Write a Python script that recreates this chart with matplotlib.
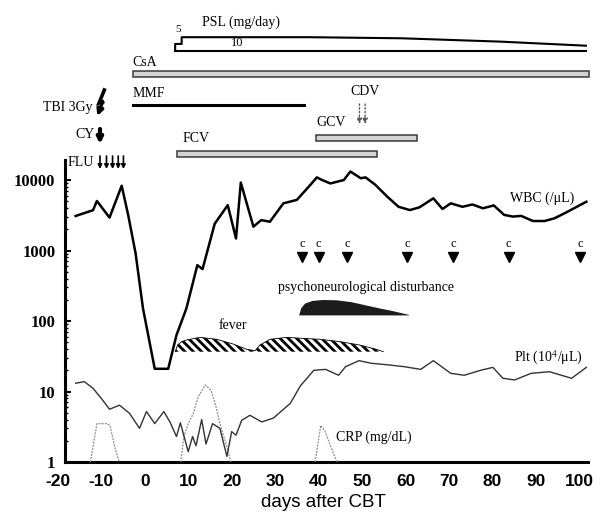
import numpy as np
import matplotlib
matplotlib.use('Agg')
import matplotlib.pyplot as plt
from matplotlib.patches import Rectangle
from matplotlib.ticker import FixedLocator, FixedFormatter, LogLocator, NullFormatter

plt.rcParams['font.family'] = ['Liberation Serif', 'DejaVu Serif']
plt.rcParams['mathtext.fontset'] = 'stix'
plt.rcParams['hatch.linewidth'] = 2.0

# ---------------- data ----------------
wbc_days = [-15.9, -11.9, -11.0, -8.1, -5.3, -3.8, -2.1, -0.4, 2.3, 5.4, 7.3, 9.6, 12.1, 13.3,
            16.1, 19.1, 21.0, 22.1, 25.0, 26.8, 28.8, 31.9, 35.0, 37.7, 39.6, 40.8, 42.7, 45.8,
            47.3, 49.7, 50.8, 53.0, 55.8, 58.4, 61.0, 63.2, 66.4, 68.5, 70.4, 73.1, 75.4, 77.8,
            80.3, 82.7, 84.7, 86.6, 89.3, 92.0, 94.3, 96.6, 101.6]
wbc_vals = [3090, 3730, 5040, 2930, 8300, 3170, 910, 151, 21, 21, 63, 152, 620, 545,
            2400, 4400, 1480, 9200, 2180, 2700, 2560, 4670, 5230, 8000, 10900, 10000, 8940, 10000,
            13200, 10600, 10900, 8600, 5800, 4170, 3750, 4100, 5500, 3880, 4670, 4170, 4500, 3970,
            4360, 3200, 3030, 3100, 2620, 2620, 2870, 3380, 4920]

plt_days = [-15.9, -13.9, -11.9, -10.0, -8.1, -5.8, -3.5, -1.2, 0.4, 2.3, 4.4, 5.8, 7.3, 8.2,
            10.0, 11.0, 11.8, 13.1, 14.1, 15.6, 17.3, 18.9, 20.0, 21.0, 22.3, 24.2, 26.9, 29.6,
            33.5, 35.8, 38.9, 41.6, 44.6, 46.2, 49.3, 52.0, 56.2, 59.7, 63.5, 66.4, 70.4, 73.5,
            77.4, 80.1, 82.4, 85.1, 88.9, 93.1, 98.2, 101.6]
plt_vals = [13.1, 13.8, 11.1, 8.0, 5.6, 6.4, 4.9, 3.0, 5.2, 3.5, 5.2, 3.7, 2.3, 3.6,
            1.4, 2.3, 1.7, 4.0, 1.8, 3.5, 3.0, 1.2, 2.7, 2.4, 3.9, 4.6, 3.7, 4.2,
            6.8, 12.0, 20.0, 20.6, 17.0, 22.5, 27.4, 25.2, 23.8, 22.5, 20.6, 27.4, 18.1, 17.0,
            20.1, 22.0, 15.4, 14.6, 18.1, 19.1, 15.4, 22.0]

crp_days = [-12.5, -11.0, -8.7, -8.0, -6.9, -5.9, np.nan,
            8.3, 9.0, 10.0, 11.2, 12.3, 13.9, 15.2, 16.2, 17.3, 18.9, 19.8, np.nan,
            39.2, 40.5, 41.5, 43.4, 44.2]
crp_vals = [1.0, 3.5, 3.5, 3.3, 1.65, 1.0, np.nan,
            1.0, 2.3, 3.5, 4.9, 8.4, 12.4, 10.5, 6.8, 3.5, 1.65, 1.0, np.nan,
            1.0, 3.3, 2.7, 1.33, 1.0]

fever_days = [7.0, 7.6, 8.5, 9.7, 12.7, 16.6, 20.4, 23.5, 25.4, 26.5, 28.8, 32.7, 35.7,
              40.3, 44.9, 49.5, 53.3, 54.9]
fever_top = [36.7, 46, 51, 54, 58.6, 55, 47, 39.6, 38.0, 45.6, 55, 58.6, 57,
             55, 51, 45.6, 39.6, 36.7]
fever_base = 36.7

psych_days = [35.4, 35.9, 36.8, 38.5, 41.0, 44.0, 47.5, 51.0, 54.0, 56.4, 58.6, 60.7]
psych_top = [122, 155, 180, 196, 202, 200, 188, 168, 153, 143, 133, 124]
psych_base = 122

c_days = [36.2, 40.0, 46.6, 60.4, 71.0, 83.7, 100.1]

psl_days = [7.0, 8.5, 8.5, 38.0, 59.0, 82.0, 101.5]
psl_dose = [5, 5, 10, 10, 9.2, 6.7, 3.7]

csa_span = (-2.8, 102.3)
mmf_span = (-2.7, 36.6)
fcv_span = (7.4, 53.5)
gcv_span = (39.4, 62.7)
cdv_days = [49.4, 50.7]
tbi_day = -10.3
cy_day = -10.3
flu_days = [-10.3, -8.8, -7.4, -6.1, -4.9]

x_ticks = [-20, -10, 0, 10, 20, 30, 40, 50, 60, 70, 80, 90, 100]
y_ticks = [1, 10, 100, 1000, 10000]
y_labels = ['1', '10', '100', '1000', '10000']

# ---------------- figure ----------------
fig = plt.figure(figsize=(6, 5.15), dpi=100)
L = 57.8 / 600
W = (588.1 - 57.8) / 600
ax = fig.add_axes([L, 1 - 462 / 515, W, (462 - 160) / 515])
ax.set_yscale('log')
ax.set_xlim(-20, 102)
ax.set_ylim(1, 10 ** 4.284)

for s in ('top', 'right'):
    ax.spines[s].set_visible(False)
ax.spines['left'].set_position(('data', -18.3))
ax.spines['left'].set_linewidth(2.2)
ax.spines['bottom'].set_linewidth(2.2)
ax.spines['bottom'].set_bounds(-18.3, 102)

ax.set_xticks(x_ticks)
ax.set_xticklabels([str(t) for t in x_ticks], family='Liberation Sans',
                   fontweight='bold', fontsize=12.5)
ax.tick_params(axis='x', length=0, pad=9)
ax.yaxis.set_major_locator(FixedLocator(y_ticks))
ax.yaxis.set_major_formatter(FixedFormatter(y_labels))
ax.yaxis.set_minor_locator(LogLocator(base=10, subs=range(2, 10)))
ax.yaxis.set_minor_formatter(NullFormatter())
ax.tick_params(axis='y', which='major', direction='in', length=4, width=1.5, pad=7)
ax.tick_params(axis='y', which='minor', direction='in', length=2, width=1)
for lab in ax.get_yticklabels():
    lab.set_fontweight('bold')
    lab.set_fontsize(12)
ax.set_xlabel('days after CBT', family='Liberation Sans', fontsize=13.5, labelpad=3)

# series
ax.plot(wbc_days, wbc_vals, color='black', lw=1.8, zorder=4)
ax.plot(plt_days, plt_vals, color='#333333', lw=1.0, zorder=4)
ax.plot(crp_days, crp_vals, color='#8a8a8a', lw=0.9, ls=(0, (1.5, 1)), zorder=3)

ax.fill_between(fever_days, fever_base, fever_top, facecolor='white', edgecolor='black',
                hatch='\\\\\\\\', linewidth=0, zorder=2)
ax.plot(fever_days, fever_top, color='black', lw=0.6, zorder=2)
ax.fill_between(psych_days, psych_base, psych_top, color='#1c1c1c', linewidth=0, zorder=2)

ax.plot(c_days, [800] * len(c_days), linestyle='none', marker='v', color='black',
        markersize=7, zorder=5)
for d in c_days:
    ax.text(d, 1250, 'c', ha='center', va='center', fontsize=9)

# labels inside the plot
ax.text(91.4, 5560, 'WBC (/μL)', ha='center', va='center', fontsize=10)
ax.text(92.8, 29.9, 'Plt (10$^{4}$/μL)', ha='center', va='center', fontsize=10)
ax.text(52.8, 2.26, 'CRP (mg/dL)', ha='center', va='center', fontsize=10)
ax.text(51.0, 300, 'psychoneurological disturbance', ha='center', va='center', fontsize=10)
ax.text(20.3, 85, 'fever', ha='center', va='center', fontsize=10)

# ---------------- treatment panel ----------------
axt = fig.add_axes([L, 1 - 175 / 515, W, 175 / 515])
axt.set_xlim(-20, 102)
axt.set_ylim(175, 0)
axt.axis('off')

# PSL outline
base = 50.7
scale = 1.35
top = [base - v * scale for v in psl_dose]
axt.plot([psl_days[0]] + psl_days, [base] + top, color='black', lw=1.5, clip_on=False)
axt.plot([psl_days[0], psl_days[-1]], [base, base], color='black', lw=1.5, clip_on=False)
axt.text(22.2, 22, 'PSL (mg/day)', ha='center', va='center', fontsize=10)
axt.text(7.6, 30, '5', ha='center', va='center', fontsize=8)
axt.text(21.2, 43.5, '10', ha='center', va='center', fontsize=9)


def bar(span, y0, h):
    axt.add_patch(Rectangle((span[0], y0), span[1] - span[0], h, facecolor='#d4d4d4',
                            edgecolor='#3a3a3a', lw=1.1, clip_on=False))


# CsA
bar(csa_span, 70.5, 6.5)
axt.text(-2.8, 62, 'CsA', ha='left', va='center', fontsize=10)
# MMF
axt.plot(mmf_span, [105, 105], color='black', lw=2.2, clip_on=False)
axt.text(-2.8, 93.5, 'MMF', ha='left', va='center', fontsize=10)
# FCV
bar(fcv_span, 150.5, 6.5)
axt.text(8.8, 138, 'FCV', ha='left', va='center', fontsize=10)
# GCV
bar(gcv_span, 135, 6)
axt.text(39.6, 123, 'GCV', ha='left', va='center', fontsize=10)
# CDV
axt.text(50.7, 91.5, 'CDV', ha='center', va='center', fontsize=10)
for d in cdv_days:
    axt.annotate('', xy=(d, 124), xytext=(d, 104), annotation_clip=False,
                 arrowprops=dict(arrowstyle='-|>', color='#555555', lw=1.0, ls=':',
                                 mutation_scale=8, shrinkA=0, shrinkB=0))

# TBI lightning bolt
d = tbi_day
axt.plot([d + 1.0, d - 0.2, d + 0.6], [90, 103, 102], color='black', lw=2.6,
         solid_joinstyle='miter', clip_on=False)
axt.annotate('', xy=(d - 0.6, 116), xytext=(d + 0.6, 102), annotation_clip=False,
             arrowprops=dict(arrowstyle='-|>', color='black', lw=2.4, mutation_scale=9,
                             shrinkA=0, shrinkB=0))
axt.text(d - 1.8, 108, 'TBI 3Gy', ha='right', va='center', fontsize=10)

# CY arrow
axt.annotate('', xy=(cy_day, 144), xytext=(cy_day, 129), annotation_clip=False,
             arrowprops=dict(arrowstyle='-|>', color='black', lw=3.0, mutation_scale=8,
                             shrinkA=0, shrinkB=0))
axt.text(cy_day - 1.2, 135, 'CY', ha='right', va='center', fontsize=10)

# FLU arrows
for fd in flu_days:
    axt.annotate('', xy=(fd, 169), xytext=(fd, 156), annotation_clip=False,
                 arrowprops=dict(arrowstyle='-|>', color='black', lw=1.2, mutation_scale=6,
                                 shrinkA=0, shrinkB=0))
axt.text(-17.8, 162.5, 'FLU', ha='left', va='center', fontsize=10)

fig.savefig('out.png', dpi=100)
